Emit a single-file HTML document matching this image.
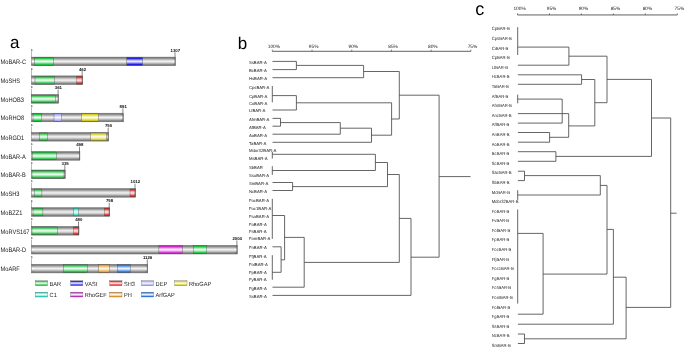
<!DOCTYPE html>
<html><head><meta charset="utf-8"><style>
html,body{margin:0;padding:0;background:#fff;}
body{width:685px;height:348px;overflow:hidden;}
svg{display:block;font-family:"Liberation Sans", sans-serif;will-change:transform;text-rendering:geometricPrecision;}
</style></head><body>
<svg width="685" height="348" viewBox="0 0 685 348">
<defs><linearGradient id="ggray" x1="0" y1="0" x2="0" y2="1"><stop offset="0" stop-color="#707070"/><stop offset="0.12" stop-color="#848484"/><stop offset="0.32" stop-color="#c9c9c9"/><stop offset="0.5" stop-color="#f4f4f4"/><stop offset="0.68" stop-color="#c9c9c9"/><stop offset="0.88" stop-color="#848484"/><stop offset="1" stop-color="#707070"/></linearGradient><linearGradient id="gcap" x1="0" y1="0" x2="0" y2="1"><stop offset="0" stop-color="#757575"/><stop offset="0.12" stop-color="#8a8a8a"/><stop offset="0.32" stop-color="#d2d2d2"/><stop offset="0.5" stop-color="#ffffff"/><stop offset="0.68" stop-color="#d2d2d2"/><stop offset="0.88" stop-color="#8a8a8a"/><stop offset="1" stop-color="#757575"/></linearGradient><linearGradient id="gBAR" x1="0" y1="0" x2="0" y2="1"><stop offset="0" stop-color="#1ca639"/><stop offset="0.12" stop-color="#22c444"/><stop offset="0.32" stop-color="#a1e8af"/><stop offset="0.5" stop-color="#f0fff2"/><stop offset="0.68" stop-color="#a1e8af"/><stop offset="0.88" stop-color="#22c444"/><stop offset="1" stop-color="#1ca639"/></linearGradient><linearGradient id="gVASt" x1="0" y1="0" x2="0" y2="1"><stop offset="0" stop-color="#1b1bc3"/><stop offset="0.12" stop-color="#2020e6"/><stop offset="0.32" stop-color="#9f9ff5"/><stop offset="0.5" stop-color="#eeeeff"/><stop offset="0.68" stop-color="#9f9ff5"/><stop offset="0.88" stop-color="#2020e6"/><stop offset="1" stop-color="#1b1bc3"/></linearGradient><linearGradient id="gSH3" x1="0" y1="0" x2="0" y2="1"><stop offset="0" stop-color="#cc1c1c"/><stop offset="0.12" stop-color="#f02222"/><stop offset="0.32" stop-color="#f9a0a0"/><stop offset="0.5" stop-color="#ffeeee"/><stop offset="0.68" stop-color="#f9a0a0"/><stop offset="0.88" stop-color="#f02222"/><stop offset="1" stop-color="#cc1c1c"/></linearGradient><linearGradient id="gDEP" x1="0" y1="0" x2="0" y2="1"><stop offset="0" stop-color="#8e8ecf"/><stop offset="0.12" stop-color="#a8a8f4"/><stop offset="0.32" stop-color="#d8d8fa"/><stop offset="0.5" stop-color="#f6f6ff"/><stop offset="0.68" stop-color="#d8d8fa"/><stop offset="0.88" stop-color="#a8a8f4"/><stop offset="1" stop-color="#8e8ecf"/></linearGradient><linearGradient id="gRhoGAP" x1="0" y1="0" x2="0" y2="1"><stop offset="0" stop-color="#b4ad19"/><stop offset="0.12" stop-color="#d4cc1e"/><stop offset="0.32" stop-color="#eeeba1"/><stop offset="0.5" stop-color="#fffff2"/><stop offset="0.68" stop-color="#eeeba1"/><stop offset="0.88" stop-color="#d4cc1e"/><stop offset="1" stop-color="#b4ad19"/></linearGradient><linearGradient id="gC1" x1="0" y1="0" x2="0" y2="1"><stop offset="0" stop-color="#27bea8"/><stop offset="0.12" stop-color="#2ee0c6"/><stop offset="0.32" stop-color="#a5f3e7"/><stop offset="0.5" stop-color="#effffc"/><stop offset="0.68" stop-color="#a5f3e7"/><stop offset="0.88" stop-color="#2ee0c6"/><stop offset="1" stop-color="#27bea8"/></linearGradient><linearGradient id="gRhoGEF" x1="0" y1="0" x2="0" y2="1"><stop offset="0" stop-color="#b027b0"/><stop offset="0.12" stop-color="#d02ed0"/><stop offset="0.32" stop-color="#eda5ed"/><stop offset="0.5" stop-color="#ffeeff"/><stop offset="0.68" stop-color="#eda5ed"/><stop offset="0.88" stop-color="#d02ed0"/><stop offset="1" stop-color="#b027b0"/></linearGradient><linearGradient id="gPH" x1="0" y1="0" x2="0" y2="1"><stop offset="0" stop-color="#d0882a"/><stop offset="0.12" stop-color="#f5a032"/><stop offset="0.32" stop-color="#fbd5a2"/><stop offset="0.5" stop-color="#fff6e8"/><stop offset="0.68" stop-color="#fbd5a2"/><stop offset="0.88" stop-color="#f5a032"/><stop offset="1" stop-color="#d0882a"/></linearGradient><linearGradient id="gArfGAP" x1="0" y1="0" x2="0" y2="1"><stop offset="0" stop-color="#236cca"/><stop offset="0.12" stop-color="#2a80ee"/><stop offset="0.32" stop-color="#a3c7f8"/><stop offset="0.5" stop-color="#eef4ff"/><stop offset="0.68" stop-color="#a3c7f8"/><stop offset="0.88" stop-color="#2a80ee"/><stop offset="1" stop-color="#236cca"/></linearGradient></defs>
<rect width="685" height="348" fill="#fff"/>
<text x="9.9" y="47.5" font-size="17" fill="#000">a</text>
<text x="237.7" y="48.5" font-size="17" fill="#000">b</text>
<text x="475.3" y="14.9" font-size="18" fill="#000">c</text>
<text transform="translate(0.5,64.15) scale(0.89,1)" font-size="6.4" fill="#222">MoBAR-C</text>
<line x1="31.50" y1="51.20" x2="31.50" y2="57.10" stroke="#8a8a8a" stroke-width="0.6"/>
<text x="31.05" y="50.90" font-size="3.0" font-weight="bold" fill="#000">1</text>
<text x="175.30" y="51.70" font-size="4.3" font-weight="bold" fill="#111" text-anchor="middle">1307</text>
<rect x="31.30" y="57.10" width="144.10" height="8.6" fill="url(#ggray)" stroke="#6a6a6a" stroke-width="0.5"/>
<rect x="31.90" y="57.70" width="2.2" height="7.40" rx="1" fill="url(#gcap)"/>
<rect x="172.60" y="57.70" width="2.2" height="7.40" rx="1" fill="url(#gcap)"/>
<rect x="34.40" y="57.50" width="19.20" height="7.80" fill="url(#gBAR)" stroke="#444" stroke-width="0.35"/>
<rect x="126.80" y="57.50" width="15.80" height="7.80" fill="url(#gVASt)" stroke="#444" stroke-width="0.35"/>
<line x1="175.00" y1="52.20" x2="175.00" y2="65.70" stroke="#555" stroke-width="0.7"/>
<text transform="translate(0.5,82.95) scale(0.89,1)" font-size="6.4" fill="#222">MoSHS</text>
<line x1="31.50" y1="70.00" x2="31.50" y2="75.90" stroke="#8a8a8a" stroke-width="0.6"/>
<text x="31.05" y="69.70" font-size="3.0" font-weight="bold" fill="#000">1</text>
<text x="82.50" y="70.50" font-size="4.3" font-weight="bold" fill="#111" text-anchor="middle">462</text>
<rect x="31.30" y="75.90" width="51.30" height="8.6" fill="url(#ggray)" stroke="#6a6a6a" stroke-width="0.5"/>
<rect x="31.90" y="76.50" width="2.2" height="7.40" rx="1" fill="url(#gcap)"/>
<rect x="79.80" y="76.50" width="2.2" height="7.40" rx="1" fill="url(#gcap)"/>
<rect x="35.00" y="76.30" width="19.20" height="7.80" fill="url(#gBAR)" stroke="#444" stroke-width="0.35"/>
<rect x="76.60" y="76.30" width="6.00" height="7.80" fill="url(#gSH3)" stroke="#444" stroke-width="0.35"/>
<line x1="82.20" y1="71.00" x2="82.20" y2="84.50" stroke="#555" stroke-width="0.7"/>
<text transform="translate(0.5,101.65) scale(0.89,1)" font-size="6.4" fill="#222">MoHOB3</text>
<line x1="31.50" y1="88.70" x2="31.50" y2="94.60" stroke="#8a8a8a" stroke-width="0.6"/>
<text x="31.05" y="88.40" font-size="3.0" font-weight="bold" fill="#000">1</text>
<text x="58.40" y="89.20" font-size="4.3" font-weight="bold" fill="#111" text-anchor="middle">361</text>
<rect x="31.30" y="94.60" width="27.20" height="8.6" fill="url(#ggray)" stroke="#6a6a6a" stroke-width="0.5"/>
<rect x="31.90" y="95.20" width="2.2" height="7.40" rx="1" fill="url(#gcap)"/>
<rect x="55.70" y="95.20" width="2.2" height="7.40" rx="1" fill="url(#gcap)"/>
<rect x="31.60" y="95.00" width="24.00" height="7.80" fill="url(#gBAR)" stroke="#444" stroke-width="0.35"/>
<line x1="58.10" y1="89.70" x2="58.10" y2="103.20" stroke="#555" stroke-width="0.7"/>
<text transform="translate(0.5,120.25) scale(0.89,1)" font-size="6.4" fill="#222">MoRHO8</text>
<line x1="31.50" y1="107.30" x2="31.50" y2="113.20" stroke="#8a8a8a" stroke-width="0.6"/>
<text x="31.05" y="107.00" font-size="3.0" font-weight="bold" fill="#000">1</text>
<text x="123.20" y="107.80" font-size="4.3" font-weight="bold" fill="#111" text-anchor="middle">891</text>
<rect x="31.30" y="113.20" width="92.00" height="8.6" fill="url(#ggray)" stroke="#6a6a6a" stroke-width="0.5"/>
<rect x="31.90" y="113.80" width="2.2" height="7.40" rx="1" fill="url(#gcap)"/>
<rect x="120.50" y="113.80" width="2.2" height="7.40" rx="1" fill="url(#gcap)"/>
<rect x="33.00" y="113.60" width="8.40" height="7.80" fill="url(#gBAR)" stroke="#444" stroke-width="0.35"/>
<rect x="54.00" y="113.60" width="7.70" height="7.80" fill="url(#gDEP)" stroke="#444" stroke-width="0.35"/>
<rect x="81.50" y="113.60" width="16.90" height="7.80" fill="url(#gRhoGAP)" stroke="#444" stroke-width="0.35"/>
<line x1="122.90" y1="108.30" x2="122.90" y2="121.80" stroke="#555" stroke-width="0.7"/>
<text transform="translate(0.5,139.55) scale(0.89,1)" font-size="6.4" fill="#222">MoRGD1</text>
<line x1="31.50" y1="126.60" x2="31.50" y2="132.50" stroke="#8a8a8a" stroke-width="0.6"/>
<text x="31.05" y="126.30" font-size="3.0" font-weight="bold" fill="#000">1</text>
<text x="108.50" y="127.10" font-size="4.3" font-weight="bold" fill="#111" text-anchor="middle">750</text>
<rect x="31.30" y="132.50" width="77.30" height="8.6" fill="url(#ggray)" stroke="#6a6a6a" stroke-width="0.5"/>
<rect x="31.90" y="133.10" width="2.2" height="7.40" rx="1" fill="url(#gcap)"/>
<rect x="105.80" y="133.10" width="2.2" height="7.40" rx="1" fill="url(#gcap)"/>
<rect x="39.40" y="132.90" width="8.20" height="7.80" fill="url(#gBAR)" stroke="#444" stroke-width="0.35"/>
<rect x="90.50" y="132.90" width="15.90" height="7.80" fill="url(#gRhoGAP)" stroke="#444" stroke-width="0.35"/>
<line x1="108.20" y1="127.60" x2="108.20" y2="141.10" stroke="#555" stroke-width="0.7"/>
<text transform="translate(0.5,158.65) scale(0.89,1)" font-size="6.4" fill="#222">MoBAR-A</text>
<line x1="31.50" y1="145.70" x2="31.50" y2="151.60" stroke="#8a8a8a" stroke-width="0.6"/>
<text x="31.05" y="145.40" font-size="3.0" font-weight="bold" fill="#000">1</text>
<text x="79.80" y="146.20" font-size="4.3" font-weight="bold" fill="#111" text-anchor="middle">498</text>
<rect x="31.30" y="151.60" width="48.60" height="8.6" fill="url(#ggray)" stroke="#6a6a6a" stroke-width="0.5"/>
<rect x="31.90" y="152.20" width="2.2" height="7.40" rx="1" fill="url(#gcap)"/>
<rect x="77.10" y="152.20" width="2.2" height="7.40" rx="1" fill="url(#gcap)"/>
<rect x="32.40" y="152.00" width="24.10" height="7.80" fill="url(#gBAR)" stroke="#444" stroke-width="0.35"/>
<line x1="79.50" y1="146.70" x2="79.50" y2="160.20" stroke="#555" stroke-width="0.7"/>
<text transform="translate(0.5,177.05) scale(0.89,1)" font-size="6.4" fill="#222">MoBAR-B</text>
<line x1="31.50" y1="164.10" x2="31.50" y2="170.00" stroke="#8a8a8a" stroke-width="0.6"/>
<text x="31.05" y="163.80" font-size="3.0" font-weight="bold" fill="#000">1</text>
<text x="65.10" y="164.60" font-size="4.3" font-weight="bold" fill="#111" text-anchor="middle">335</text>
<rect x="31.30" y="170.00" width="33.90" height="8.6" fill="url(#ggray)" stroke="#6a6a6a" stroke-width="0.5"/>
<rect x="31.90" y="170.60" width="2.2" height="7.40" rx="1" fill="url(#gcap)"/>
<rect x="62.40" y="170.60" width="2.2" height="7.40" rx="1" fill="url(#gcap)"/>
<rect x="32.00" y="170.40" width="32.00" height="7.80" fill="url(#gBAR)" stroke="#444" stroke-width="0.35"/>
<line x1="64.80" y1="165.10" x2="64.80" y2="178.60" stroke="#555" stroke-width="0.7"/>
<text transform="translate(0.5,195.65) scale(0.89,1)" font-size="6.4" fill="#222">MoSH3</text>
<line x1="31.50" y1="182.70" x2="31.50" y2="188.60" stroke="#8a8a8a" stroke-width="0.6"/>
<text x="31.05" y="182.40" font-size="3.0" font-weight="bold" fill="#000">1</text>
<text x="135.30" y="183.20" font-size="4.3" font-weight="bold" fill="#111" text-anchor="middle">1012</text>
<rect x="31.30" y="188.60" width="104.10" height="8.6" fill="url(#ggray)" stroke="#6a6a6a" stroke-width="0.5"/>
<rect x="31.90" y="189.20" width="2.2" height="7.40" rx="1" fill="url(#gcap)"/>
<rect x="132.60" y="189.20" width="2.2" height="7.40" rx="1" fill="url(#gcap)"/>
<rect x="34.40" y="189.00" width="7.50" height="7.80" fill="url(#gBAR)" stroke="#444" stroke-width="0.35"/>
<rect x="130.00" y="189.00" width="5.40" height="7.80" fill="url(#gSH3)" stroke="#444" stroke-width="0.35"/>
<line x1="135.00" y1="183.70" x2="135.00" y2="197.20" stroke="#555" stroke-width="0.7"/>
<text transform="translate(0.5,214.75) scale(0.89,1)" font-size="6.4" fill="#222">MoBZZ1</text>
<line x1="31.50" y1="201.80" x2="31.50" y2="207.70" stroke="#8a8a8a" stroke-width="0.6"/>
<text x="31.05" y="201.50" font-size="3.0" font-weight="bold" fill="#000">1</text>
<text x="109.50" y="202.30" font-size="4.3" font-weight="bold" fill="#111" text-anchor="middle">758</text>
<rect x="31.30" y="207.70" width="78.30" height="8.6" fill="url(#ggray)" stroke="#6a6a6a" stroke-width="0.5"/>
<rect x="31.90" y="208.30" width="2.2" height="7.40" rx="1" fill="url(#gcap)"/>
<rect x="106.80" y="208.30" width="2.2" height="7.40" rx="1" fill="url(#gcap)"/>
<rect x="33.00" y="208.10" width="9.90" height="7.80" fill="url(#gBAR)" stroke="#444" stroke-width="0.35"/>
<rect x="73.40" y="208.10" width="5.20" height="7.80" fill="url(#gC1)" stroke="#444" stroke-width="0.35"/>
<rect x="104.40" y="208.10" width="5.20" height="7.80" fill="url(#gSH3)" stroke="#444" stroke-width="0.35"/>
<line x1="109.20" y1="202.80" x2="109.20" y2="216.30" stroke="#555" stroke-width="0.7"/>
<text transform="translate(0.5,233.55) scale(0.89,1)" font-size="6.4" fill="#222">MoRVS167</text>
<line x1="31.50" y1="220.60" x2="31.50" y2="226.50" stroke="#8a8a8a" stroke-width="0.6"/>
<text x="31.05" y="220.30" font-size="3.0" font-weight="bold" fill="#000">1</text>
<text x="78.80" y="221.10" font-size="4.3" font-weight="bold" fill="#111" text-anchor="middle">480</text>
<rect x="31.30" y="226.50" width="47.60" height="8.6" fill="url(#ggray)" stroke="#6a6a6a" stroke-width="0.5"/>
<rect x="31.90" y="227.10" width="2.2" height="7.40" rx="1" fill="url(#gcap)"/>
<rect x="76.10" y="227.10" width="2.2" height="7.40" rx="1" fill="url(#gcap)"/>
<rect x="32.00" y="226.90" width="25.50" height="7.80" fill="url(#gBAR)" stroke="#444" stroke-width="0.35"/>
<rect x="73.40" y="226.90" width="5.50" height="7.80" fill="url(#gSH3)" stroke="#444" stroke-width="0.35"/>
<line x1="78.50" y1="221.60" x2="78.50" y2="235.10" stroke="#555" stroke-width="0.7"/>
<text transform="translate(0.5,252.45) scale(0.89,1)" font-size="6.4" fill="#222">MoBAR-D</text>
<line x1="31.50" y1="239.50" x2="31.50" y2="245.40" stroke="#8a8a8a" stroke-width="0.6"/>
<text x="31.05" y="239.20" font-size="3.0" font-weight="bold" fill="#000">1</text>
<text x="237.20" y="240.00" font-size="4.3" font-weight="bold" fill="#111" text-anchor="middle">2004</text>
<rect x="31.30" y="245.40" width="206.00" height="8.6" fill="url(#ggray)" stroke="#6a6a6a" stroke-width="0.5"/>
<rect x="31.90" y="246.00" width="2.2" height="7.40" rx="1" fill="url(#gcap)"/>
<rect x="234.50" y="246.00" width="2.2" height="7.40" rx="1" fill="url(#gcap)"/>
<rect x="158.90" y="245.80" width="23.50" height="7.80" fill="url(#gRhoGEF)" stroke="#444" stroke-width="0.35"/>
<rect x="193.30" y="245.80" width="13.50" height="7.80" fill="url(#gBAR)" stroke="#444" stroke-width="0.35"/>
<line x1="236.90" y1="240.50" x2="236.90" y2="254.00" stroke="#555" stroke-width="0.7"/>
<text transform="translate(0.5,271.35) scale(0.89,1)" font-size="6.4" fill="#222">MoARF</text>
<line x1="31.50" y1="258.40" x2="31.50" y2="264.30" stroke="#8a8a8a" stroke-width="0.6"/>
<text x="31.05" y="258.10" font-size="3.0" font-weight="bold" fill="#000">1</text>
<text x="147.60" y="258.90" font-size="4.3" font-weight="bold" fill="#111" text-anchor="middle">1126</text>
<rect x="31.30" y="264.30" width="116.40" height="8.6" fill="url(#ggray)" stroke="#6a6a6a" stroke-width="0.5"/>
<rect x="31.90" y="264.90" width="2.2" height="7.40" rx="1" fill="url(#gcap)"/>
<rect x="144.90" y="264.90" width="2.2" height="7.40" rx="1" fill="url(#gcap)"/>
<rect x="63.20" y="264.70" width="24.10" height="7.80" fill="url(#gBAR)" stroke="#444" stroke-width="0.35"/>
<rect x="98.50" y="264.70" width="11.00" height="7.80" fill="url(#gPH)" stroke="#444" stroke-width="0.35"/>
<rect x="117.20" y="264.70" width="13.10" height="7.80" fill="url(#gArfGAP)" stroke="#444" stroke-width="0.35"/>
<line x1="147.30" y1="259.40" x2="147.30" y2="272.90" stroke="#555" stroke-width="0.7"/>
<rect x="35.30" y="280.80" width="12.4" height="4.8" fill="url(#gBAR)" stroke="#555" stroke-width="0.3"/>
<text transform="translate(49.60,285.50) scale(0.94,1)" font-size="6" fill="#222">BAR</text>
<rect x="70.50" y="280.80" width="12.4" height="4.8" fill="url(#gVASt)" stroke="#555" stroke-width="0.3"/>
<text transform="translate(84.80,285.50) scale(0.94,1)" font-size="6" fill="#222">VASt</text>
<rect x="109.60" y="280.80" width="12.4" height="4.8" fill="url(#gSH3)" stroke="#555" stroke-width="0.3"/>
<text transform="translate(123.90,285.50) scale(0.94,1)" font-size="6" fill="#222">SH3</text>
<rect x="141.30" y="280.80" width="12.4" height="4.8" fill="url(#gDEP)" stroke="#555" stroke-width="0.3"/>
<text transform="translate(155.60,285.50) scale(0.94,1)" font-size="6" fill="#222">DEP</text>
<rect x="174.60" y="280.80" width="12.4" height="4.8" fill="url(#gRhoGAP)" stroke="#555" stroke-width="0.3"/>
<text transform="translate(188.90,285.50) scale(0.94,1)" font-size="6" fill="#222">RhoGAP</text>
<rect x="35.30" y="292.20" width="12.4" height="4.8" fill="url(#gC1)" stroke="#555" stroke-width="0.3"/>
<text transform="translate(49.60,296.90) scale(0.94,1)" font-size="6" fill="#222">C1</text>
<rect x="70.50" y="292.20" width="12.4" height="4.8" fill="url(#gRhoGEF)" stroke="#555" stroke-width="0.3"/>
<text transform="translate(84.80,296.90) scale(0.94,1)" font-size="6" fill="#222">RhoGEF</text>
<rect x="109.60" y="292.20" width="12.4" height="4.8" fill="url(#gPH)" stroke="#555" stroke-width="0.3"/>
<text transform="translate(123.90,296.90) scale(0.94,1)" font-size="6" fill="#222">PH</text>
<rect x="141.30" y="292.20" width="12.4" height="4.8" fill="url(#gArfGAP)" stroke="#555" stroke-width="0.3"/>
<text transform="translate(155.60,296.90) scale(0.94,1)" font-size="6" fill="#222">ArfGAP</text>
<line x1="272.30" y1="51.30" x2="470.90" y2="51.30" stroke="#444" stroke-width="0.85"/>
<line x1="272.30" y1="49.70" x2="272.30" y2="51.30" stroke="#333" stroke-width="0.6"/>
<text x="273.90" y="47.70" font-size="4.8" fill="#222" text-anchor="middle">100%</text>
<line x1="312.02" y1="49.70" x2="312.02" y2="51.30" stroke="#333" stroke-width="0.6"/>
<text x="313.62" y="47.70" font-size="4.8" fill="#222" text-anchor="middle">95%</text>
<line x1="351.74" y1="49.70" x2="351.74" y2="51.30" stroke="#333" stroke-width="0.6"/>
<text x="353.34" y="47.70" font-size="4.8" fill="#222" text-anchor="middle">90%</text>
<line x1="391.46" y1="49.70" x2="391.46" y2="51.30" stroke="#333" stroke-width="0.6"/>
<text x="393.06" y="47.70" font-size="4.8" fill="#222" text-anchor="middle">85%</text>
<line x1="431.18" y1="49.70" x2="431.18" y2="51.30" stroke="#333" stroke-width="0.6"/>
<text x="432.78" y="47.70" font-size="4.8" fill="#222" text-anchor="middle">80%</text>
<line x1="470.90" y1="49.70" x2="470.90" y2="51.30" stroke="#333" stroke-width="0.6"/>
<text x="472.50" y="47.70" font-size="4.8" fill="#222" text-anchor="middle">75%</text>
<text x="248.9" y="63.80" font-size="4.25" fill="#222">SsBAR-A</text>
<text x="248.9" y="72.00" font-size="4.25" fill="#222">BcBAR-A</text>
<text x="248.9" y="80.10" font-size="4.25" fill="#222">HsBAR-A</text>
<text x="248.9" y="88.60" font-size="4.25" fill="#222">CpsBAR-A</text>
<text x="248.9" y="98.00" font-size="4.25" fill="#222">CpBAR-A</text>
<text x="248.9" y="104.80" font-size="4.25" fill="#222">CoBAR-A</text>
<text x="248.9" y="112.40" font-size="4.25" fill="#222">LtBAR-A</text>
<text x="248.9" y="120.80" font-size="4.25" fill="#222">AfmBAR-A</text>
<text x="248.9" y="128.60" font-size="4.25" fill="#222">AfBAR-A</text>
<text x="248.9" y="136.60" font-size="4.25" fill="#222">AoBAR-A</text>
<text x="248.9" y="144.70" font-size="4.25" fill="#222">TaBAR-A</text>
<text x="248.9" y="152.40" font-size="4.25" fill="#222">Mdor32BAR-A</text>
<text x="248.9" y="160.40" font-size="4.25" fill="#222">MsBAR-A</text>
<text x="248.9" y="169.00" font-size="4.25" fill="#222">SbBAR</text>
<text x="248.9" y="177.00" font-size="4.25" fill="#222">SsuBAR-A</text>
<text x="248.9" y="184.90" font-size="4.25" fill="#222">SmBAR-A</text>
<text x="248.9" y="192.90" font-size="4.25" fill="#222">NcBAR-A</text>
<text x="248.9" y="201.60" font-size="4.25" fill="#222">FocBAR-A</text>
<text x="248.9" y="210.00" font-size="4.25" fill="#222">Foc1BAR-A</text>
<text x="248.9" y="218.00" font-size="4.25" fill="#222">FsaBAR-A</text>
<text x="248.9" y="226.00" font-size="4.25" fill="#222">FoBAR-A</text>
<text x="248.9" y="233.30" font-size="4.25" fill="#222">FsBAR-A</text>
<text x="248.9" y="240.00" font-size="4.25" fill="#222">FomBAR-A</text>
<text x="248.9" y="249.20" font-size="4.25" fill="#222">FnBAR-A</text>
<text x="248.9" y="258.20" font-size="4.25" fill="#222">FfjBAR-A</text>
<text x="248.9" y="266.00" font-size="4.25" fill="#222">FolBAR-A</text>
<text x="248.9" y="274.00" font-size="4.25" fill="#222">FpBAR-A</text>
<text x="248.9" y="281.00" font-size="4.25" fill="#222">FyBAR-A</text>
<text x="248.9" y="289.60" font-size="4.25" fill="#222">FgBAR-A</text>
<text x="248.9" y="297.80" font-size="4.25" fill="#222">SsBAR-A</text>
<line x1="272.50" y1="61.40" x2="296.40" y2="61.40" stroke="#4a4a4a" stroke-width="0.85"/>
<line x1="272.50" y1="69.60" x2="296.40" y2="69.60" stroke="#4a4a4a" stroke-width="0.85"/>
<line x1="296.40" y1="61.40" x2="296.40" y2="69.60" stroke="#4a4a4a" stroke-width="0.85"/>
<line x1="296.40" y1="65.40" x2="363.60" y2="65.40" stroke="#4a4a4a" stroke-width="0.85"/>
<line x1="272.50" y1="77.70" x2="363.60" y2="77.70" stroke="#4a4a4a" stroke-width="0.85"/>
<line x1="363.60" y1="65.40" x2="363.60" y2="77.70" stroke="#4a4a4a" stroke-width="0.85"/>
<line x1="363.60" y1="71.50" x2="399.30" y2="71.50" stroke="#4a4a4a" stroke-width="0.85"/>
<line x1="272.30" y1="86.00" x2="272.30" y2="102.40" stroke="#4a4a4a" stroke-width="0.85"/>
<line x1="272.30" y1="95.60" x2="296.40" y2="95.60" stroke="#4a4a4a" stroke-width="0.85"/>
<line x1="272.50" y1="110.00" x2="296.40" y2="110.00" stroke="#4a4a4a" stroke-width="0.85"/>
<line x1="296.40" y1="95.60" x2="296.40" y2="110.00" stroke="#4a4a4a" stroke-width="0.85"/>
<line x1="296.40" y1="102.80" x2="391.60" y2="102.80" stroke="#4a4a4a" stroke-width="0.85"/>
<line x1="272.50" y1="118.40" x2="280.50" y2="118.40" stroke="#4a4a4a" stroke-width="0.85"/>
<line x1="272.50" y1="126.20" x2="280.50" y2="126.20" stroke="#4a4a4a" stroke-width="0.85"/>
<line x1="280.50" y1="118.40" x2="280.50" y2="126.20" stroke="#4a4a4a" stroke-width="0.85"/>
<line x1="280.50" y1="122.60" x2="340.30" y2="122.60" stroke="#4a4a4a" stroke-width="0.85"/>
<line x1="272.50" y1="134.20" x2="340.30" y2="134.20" stroke="#4a4a4a" stroke-width="0.85"/>
<line x1="340.30" y1="122.60" x2="340.30" y2="134.20" stroke="#4a4a4a" stroke-width="0.85"/>
<line x1="340.30" y1="128.20" x2="371.50" y2="128.20" stroke="#4a4a4a" stroke-width="0.85"/>
<line x1="272.50" y1="142.30" x2="371.50" y2="142.30" stroke="#4a4a4a" stroke-width="0.85"/>
<line x1="371.50" y1="128.20" x2="371.50" y2="142.30" stroke="#4a4a4a" stroke-width="0.85"/>
<line x1="371.50" y1="135.20" x2="391.60" y2="135.20" stroke="#4a4a4a" stroke-width="0.85"/>
<line x1="391.60" y1="102.80" x2="391.60" y2="135.20" stroke="#4a4a4a" stroke-width="0.85"/>
<line x1="391.60" y1="119.00" x2="399.30" y2="119.00" stroke="#4a4a4a" stroke-width="0.85"/>
<line x1="399.30" y1="71.50" x2="399.30" y2="119.00" stroke="#4a4a4a" stroke-width="0.85"/>
<line x1="399.30" y1="95.20" x2="439.10" y2="95.20" stroke="#4a4a4a" stroke-width="0.85"/>
<line x1="272.30" y1="151.80" x2="272.30" y2="158.60" stroke="#4a4a4a" stroke-width="0.85"/>
<line x1="272.30" y1="154.30" x2="375.40" y2="154.30" stroke="#4a4a4a" stroke-width="0.85"/>
<line x1="272.30" y1="166.20" x2="272.30" y2="174.90" stroke="#4a4a4a" stroke-width="0.85"/>
<line x1="272.30" y1="170.50" x2="375.40" y2="170.50" stroke="#4a4a4a" stroke-width="0.85"/>
<line x1="375.40" y1="154.30" x2="375.40" y2="170.50" stroke="#4a4a4a" stroke-width="0.85"/>
<line x1="375.40" y1="162.50" x2="387.50" y2="162.50" stroke="#4a4a4a" stroke-width="0.85"/>
<line x1="272.50" y1="182.50" x2="292.60" y2="182.50" stroke="#4a4a4a" stroke-width="0.85"/>
<line x1="272.50" y1="190.50" x2="292.60" y2="190.50" stroke="#4a4a4a" stroke-width="0.85"/>
<line x1="292.60" y1="182.50" x2="292.60" y2="190.50" stroke="#4a4a4a" stroke-width="0.85"/>
<line x1="292.60" y1="186.60" x2="387.50" y2="186.60" stroke="#4a4a4a" stroke-width="0.85"/>
<line x1="387.50" y1="162.50" x2="387.50" y2="186.60" stroke="#4a4a4a" stroke-width="0.85"/>
<line x1="387.50" y1="174.50" x2="399.30" y2="174.50" stroke="#4a4a4a" stroke-width="0.85"/>
<line x1="272.30" y1="198.80" x2="272.30" y2="238.90" stroke="#4a4a4a" stroke-width="0.85"/>
<line x1="272.30" y1="215.50" x2="284.60" y2="215.50" stroke="#4a4a4a" stroke-width="0.85"/>
<line x1="272.50" y1="246.80" x2="281.10" y2="246.80" stroke="#4a4a4a" stroke-width="0.85"/>
<line x1="272.30" y1="255.20" x2="272.30" y2="279.80" stroke="#4a4a4a" stroke-width="0.85"/>
<line x1="272.30" y1="272.30" x2="281.10" y2="272.30" stroke="#4a4a4a" stroke-width="0.85"/>
<line x1="281.10" y1="246.80" x2="281.10" y2="272.30" stroke="#4a4a4a" stroke-width="0.85"/>
<line x1="281.10" y1="259.80" x2="284.60" y2="259.80" stroke="#4a4a4a" stroke-width="0.85"/>
<line x1="284.60" y1="215.50" x2="284.60" y2="259.80" stroke="#4a4a4a" stroke-width="0.85"/>
<line x1="284.60" y1="237.40" x2="304.20" y2="237.40" stroke="#4a4a4a" stroke-width="0.85"/>
<line x1="272.50" y1="287.20" x2="304.20" y2="287.20" stroke="#4a4a4a" stroke-width="0.85"/>
<line x1="304.20" y1="237.40" x2="304.20" y2="287.20" stroke="#4a4a4a" stroke-width="0.85"/>
<line x1="304.20" y1="262.40" x2="399.30" y2="262.40" stroke="#4a4a4a" stroke-width="0.85"/>
<line x1="399.30" y1="174.50" x2="399.30" y2="262.40" stroke="#4a4a4a" stroke-width="0.85"/>
<line x1="399.30" y1="218.40" x2="411.00" y2="218.40" stroke="#4a4a4a" stroke-width="0.85"/>
<line x1="272.50" y1="295.40" x2="411.00" y2="295.40" stroke="#4a4a4a" stroke-width="0.85"/>
<line x1="411.00" y1="218.40" x2="411.00" y2="295.40" stroke="#4a4a4a" stroke-width="0.85"/>
<line x1="411.00" y1="257.20" x2="439.10" y2="257.20" stroke="#4a4a4a" stroke-width="0.85"/>
<line x1="439.10" y1="95.20" x2="439.10" y2="257.20" stroke="#4a4a4a" stroke-width="0.85"/>
<line x1="439.10" y1="176.60" x2="470.60" y2="176.60" stroke="#4a4a4a" stroke-width="0.85"/>
<line x1="517.50" y1="14.95" x2="677.30" y2="14.95" stroke="#444" stroke-width="0.85"/>
<line x1="517.50" y1="13.35" x2="517.50" y2="14.95" stroke="#333" stroke-width="0.6"/>
<text x="519.60" y="10.20" font-size="4.8" fill="#222" text-anchor="middle">100%</text>
<line x1="549.46" y1="13.35" x2="549.46" y2="14.95" stroke="#333" stroke-width="0.6"/>
<text x="551.56" y="10.20" font-size="4.8" fill="#222" text-anchor="middle">95%</text>
<line x1="581.42" y1="13.35" x2="581.42" y2="14.95" stroke="#333" stroke-width="0.6"/>
<text x="583.52" y="10.20" font-size="4.8" fill="#222" text-anchor="middle">90%</text>
<line x1="613.38" y1="13.35" x2="613.38" y2="14.95" stroke="#333" stroke-width="0.6"/>
<text x="615.48" y="10.20" font-size="4.8" fill="#222" text-anchor="middle">85%</text>
<line x1="645.34" y1="13.35" x2="645.34" y2="14.95" stroke="#333" stroke-width="0.6"/>
<text x="647.44" y="10.20" font-size="4.8" fill="#222" text-anchor="middle">80%</text>
<line x1="677.30" y1="13.35" x2="677.30" y2="14.95" stroke="#333" stroke-width="0.6"/>
<text x="679.40" y="10.20" font-size="4.8" fill="#222" text-anchor="middle">75%</text>
<text transform="translate(491.8,30.40) scale(0.92,1)" font-size="4.5" fill="#222">CpBAR-B</text>
<text transform="translate(491.8,39.99) scale(0.92,1)" font-size="4.5" fill="#222">CpsBAR-B</text>
<text transform="translate(491.8,49.59) scale(0.92,1)" font-size="4.5" fill="#222">CiBAR-B</text>
<text transform="translate(491.8,59.18) scale(0.92,1)" font-size="4.5" fill="#222">CpBAR-B</text>
<text transform="translate(491.8,68.78) scale(0.92,1)" font-size="4.5" fill="#222">LtBAR-B</text>
<text transform="translate(491.8,78.37) scale(0.92,1)" font-size="4.5" fill="#222">HcBAR-B</text>
<text transform="translate(491.8,87.96) scale(0.92,1)" font-size="4.5" fill="#222">TaBAR-B</text>
<text transform="translate(491.8,97.56) scale(0.92,1)" font-size="4.5" fill="#222">AfBAR-B</text>
<text transform="translate(491.8,107.15) scale(0.92,1)" font-size="4.5" fill="#222">AfmBAR-B</text>
<text transform="translate(491.8,116.75) scale(0.92,1)" font-size="4.5" fill="#222">AncBAR-B</text>
<text transform="translate(491.8,126.34) scale(0.92,1)" font-size="4.5" fill="#222">AflBAR-B</text>
<text transform="translate(491.8,135.93) scale(0.92,1)" font-size="4.5" fill="#222">AnBAR-B</text>
<text transform="translate(491.8,145.53) scale(0.92,1)" font-size="4.5" fill="#222">AoBAR-B</text>
<text transform="translate(491.8,155.12) scale(0.92,1)" font-size="4.5" fill="#222">BcBAR-B</text>
<text transform="translate(491.8,164.72) scale(0.92,1)" font-size="4.5" fill="#222">ScBAR-B</text>
<text transform="translate(491.8,174.31) scale(0.92,1)" font-size="4.5" fill="#222">SacBAR-B</text>
<text transform="translate(491.8,183.90) scale(0.92,1)" font-size="4.5" fill="#222">SbBAR-B</text>
<text transform="translate(491.8,193.50) scale(0.92,1)" font-size="4.5" fill="#222">McBAR-B</text>
<text transform="translate(491.8,203.09) scale(0.92,1)" font-size="4.5" fill="#222">Mdor32BAR-B</text>
<text transform="translate(491.8,212.69) scale(0.92,1)" font-size="4.5" fill="#222">FoBAR-B</text>
<text transform="translate(491.8,222.28) scale(0.92,1)" font-size="4.5" fill="#222">FvBAR-B</text>
<text transform="translate(491.8,231.87) scale(0.92,1)" font-size="4.5" fill="#222">FolBAR-B</text>
<text transform="translate(491.8,241.47) scale(0.92,1)" font-size="4.5" fill="#222">FpBAR-B</text>
<text transform="translate(491.8,251.06) scale(0.92,1)" font-size="4.5" fill="#222">FocBAR-B</text>
<text transform="translate(491.8,260.66) scale(0.92,1)" font-size="4.5" fill="#222">FfjBAR-B</text>
<text transform="translate(491.8,270.25) scale(0.92,1)" font-size="4.5" fill="#222">Foc1BAR-B</text>
<text transform="translate(491.8,279.84) scale(0.92,1)" font-size="4.5" fill="#222">FgBAR-B</text>
<text transform="translate(491.8,289.44) scale(0.92,1)" font-size="4.5" fill="#222">FcsBAR-B</text>
<text transform="translate(491.8,299.03) scale(0.92,1)" font-size="4.5" fill="#222">FomBAR-B</text>
<text transform="translate(491.8,308.63) scale(0.92,1)" font-size="4.5" fill="#222">FolBAR-B</text>
<text transform="translate(491.8,318.22) scale(0.92,1)" font-size="4.5" fill="#222">FgBAR-B</text>
<text transform="translate(491.8,327.81) scale(0.92,1)" font-size="4.5" fill="#222">SsBAR-B</text>
<text transform="translate(491.8,337.41) scale(0.92,1)" font-size="4.5" fill="#222">NcBAR-B</text>
<text transform="translate(491.8,347.00) scale(0.92,1)" font-size="4.5" fill="#222">SmBAR-B</text>
<line x1="517.70" y1="27.20" x2="517.70" y2="55.00" stroke="#4a4a4a" stroke-width="0.85"/>
<line x1="517.70" y1="47.10" x2="568.90" y2="47.10" stroke="#4a4a4a" stroke-width="0.85"/>
<line x1="517.90" y1="65.20" x2="568.90" y2="65.20" stroke="#4a4a4a" stroke-width="0.85"/>
<line x1="568.90" y1="47.10" x2="568.90" y2="65.20" stroke="#4a4a4a" stroke-width="0.85"/>
<line x1="568.90" y1="56.20" x2="607.00" y2="56.20" stroke="#4a4a4a" stroke-width="0.85"/>
<line x1="517.90" y1="74.80" x2="581.60" y2="74.80" stroke="#4a4a4a" stroke-width="0.85"/>
<line x1="517.90" y1="84.30" x2="581.60" y2="84.30" stroke="#4a4a4a" stroke-width="0.85"/>
<line x1="581.60" y1="74.80" x2="581.60" y2="84.30" stroke="#4a4a4a" stroke-width="0.85"/>
<line x1="581.60" y1="79.50" x2="594.80" y2="79.50" stroke="#4a4a4a" stroke-width="0.85"/>
<line x1="517.70" y1="94.60" x2="517.70" y2="103.30" stroke="#4a4a4a" stroke-width="0.85"/>
<line x1="517.70" y1="99.10" x2="562.20" y2="99.10" stroke="#4a4a4a" stroke-width="0.85"/>
<line x1="517.90" y1="113.60" x2="568.70" y2="113.60" stroke="#4a4a4a" stroke-width="0.85"/>
<line x1="517.90" y1="123.10" x2="562.20" y2="123.10" stroke="#4a4a4a" stroke-width="0.85"/>
<line x1="562.20" y1="99.10" x2="562.20" y2="123.10" stroke="#4a4a4a" stroke-width="0.85"/>
<line x1="517.90" y1="132.50" x2="549.60" y2="132.50" stroke="#4a4a4a" stroke-width="0.85"/>
<line x1="517.90" y1="142.20" x2="549.60" y2="142.20" stroke="#4a4a4a" stroke-width="0.85"/>
<line x1="549.60" y1="132.50" x2="549.60" y2="142.20" stroke="#4a4a4a" stroke-width="0.85"/>
<line x1="549.60" y1="137.30" x2="568.70" y2="137.30" stroke="#4a4a4a" stroke-width="0.85"/>
<line x1="568.70" y1="113.60" x2="568.70" y2="137.30" stroke="#4a4a4a" stroke-width="0.85"/>
<line x1="568.70" y1="125.90" x2="594.80" y2="125.90" stroke="#4a4a4a" stroke-width="0.85"/>
<line x1="594.80" y1="79.50" x2="594.80" y2="125.90" stroke="#4a4a4a" stroke-width="0.85"/>
<line x1="594.80" y1="102.70" x2="607.00" y2="102.70" stroke="#4a4a4a" stroke-width="0.85"/>
<line x1="607.00" y1="56.20" x2="607.00" y2="102.70" stroke="#4a4a4a" stroke-width="0.85"/>
<line x1="607.00" y1="79.40" x2="651.50" y2="79.40" stroke="#4a4a4a" stroke-width="0.85"/>
<line x1="517.90" y1="151.70" x2="555.90" y2="151.70" stroke="#4a4a4a" stroke-width="0.85"/>
<line x1="517.90" y1="161.30" x2="555.90" y2="161.30" stroke="#4a4a4a" stroke-width="0.85"/>
<line x1="555.90" y1="151.70" x2="555.90" y2="161.30" stroke="#4a4a4a" stroke-width="0.85"/>
<line x1="555.90" y1="156.40" x2="651.50" y2="156.40" stroke="#4a4a4a" stroke-width="0.85"/>
<line x1="651.50" y1="79.40" x2="651.50" y2="156.40" stroke="#4a4a4a" stroke-width="0.85"/>
<line x1="651.50" y1="118.00" x2="670.70" y2="118.00" stroke="#4a4a4a" stroke-width="0.85"/>
<line x1="517.90" y1="171.20" x2="524.50" y2="171.20" stroke="#4a4a4a" stroke-width="0.85"/>
<line x1="517.90" y1="180.60" x2="524.50" y2="180.60" stroke="#4a4a4a" stroke-width="0.85"/>
<line x1="524.50" y1="171.20" x2="524.50" y2="180.60" stroke="#4a4a4a" stroke-width="0.85"/>
<line x1="524.50" y1="175.60" x2="600.30" y2="175.60" stroke="#4a4a4a" stroke-width="0.85"/>
<line x1="517.70" y1="190.20" x2="517.70" y2="199.90" stroke="#4a4a4a" stroke-width="0.85"/>
<line x1="517.70" y1="195.00" x2="600.30" y2="195.00" stroke="#4a4a4a" stroke-width="0.85"/>
<line x1="600.30" y1="175.60" x2="600.30" y2="195.00" stroke="#4a4a4a" stroke-width="0.85"/>
<line x1="600.30" y1="185.40" x2="607.00" y2="185.40" stroke="#4a4a4a" stroke-width="0.85"/>
<line x1="517.70" y1="209.50" x2="517.70" y2="303.60" stroke="#4a4a4a" stroke-width="0.85"/>
<line x1="517.70" y1="233.40" x2="543.10" y2="233.40" stroke="#4a4a4a" stroke-width="0.85"/>
<line x1="517.90" y1="314.20" x2="543.10" y2="314.20" stroke="#4a4a4a" stroke-width="0.85"/>
<line x1="543.10" y1="233.40" x2="543.10" y2="314.20" stroke="#4a4a4a" stroke-width="0.85"/>
<line x1="543.10" y1="274.10" x2="607.00" y2="274.10" stroke="#4a4a4a" stroke-width="0.85"/>
<line x1="607.00" y1="185.40" x2="607.00" y2="274.10" stroke="#4a4a4a" stroke-width="0.85"/>
<line x1="607.00" y1="229.40" x2="613.40" y2="229.40" stroke="#4a4a4a" stroke-width="0.85"/>
<line x1="517.90" y1="324.20" x2="613.40" y2="324.20" stroke="#4a4a4a" stroke-width="0.85"/>
<line x1="613.40" y1="229.40" x2="613.40" y2="324.20" stroke="#4a4a4a" stroke-width="0.85"/>
<line x1="613.40" y1="277.20" x2="626.10" y2="277.20" stroke="#4a4a4a" stroke-width="0.85"/>
<line x1="517.90" y1="334.00" x2="524.50" y2="334.00" stroke="#4a4a4a" stroke-width="0.85"/>
<line x1="517.90" y1="343.50" x2="524.50" y2="343.50" stroke="#4a4a4a" stroke-width="0.85"/>
<line x1="524.50" y1="334.00" x2="524.50" y2="343.50" stroke="#4a4a4a" stroke-width="0.85"/>
<line x1="524.50" y1="338.80" x2="626.10" y2="338.80" stroke="#4a4a4a" stroke-width="0.85"/>
<line x1="626.10" y1="277.20" x2="626.10" y2="338.80" stroke="#4a4a4a" stroke-width="0.85"/>
<line x1="626.10" y1="307.40" x2="670.70" y2="307.40" stroke="#4a4a4a" stroke-width="0.85"/>
<line x1="670.70" y1="118.00" x2="670.70" y2="307.40" stroke="#4a4a4a" stroke-width="0.85"/>
<line x1="670.70" y1="213.20" x2="676.60" y2="213.20" stroke="#4a4a4a" stroke-width="0.85"/>
</svg>
</body></html>
